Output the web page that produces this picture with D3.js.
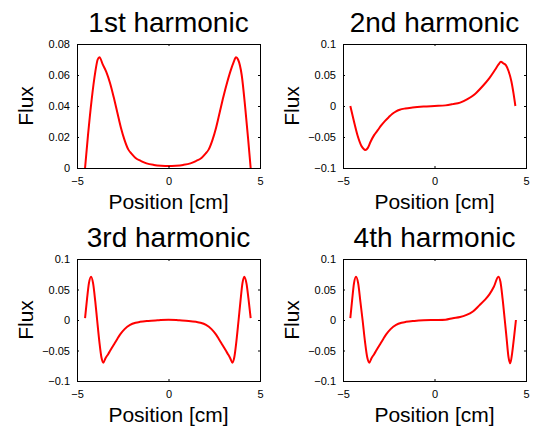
<!DOCTYPE html>
<html>
<head>
<meta charset="utf-8">
<script src="https://cdn.jsdelivr.net/npm/d3@7"></script>
<style>
  body { margin: 0; background: #fff; }
  text { font-family: "Liberation Sans", Arial, sans-serif; fill: #000; }
</style>
</head>
<body>
<div class="mainDiv"></div>
<script>
const titles = ["1st harmonic", "2nd harmonic", "3rd harmonic", "4th harmonic"];
const xTicks = [-5, 0, 5];
const yTicksFirst = [0, 0.02, 0.04, 0.06, 0.08];
const yTicksOther = [-0.1, -0.05, 0, 0.05, 0.1];

// 1st harmonic
const pos1 = [-4.56,-4.4,-4.2,-4.0,-3.87,-3.77,-3.6,-3.4,-3.2,-3.0,-2.8,-2.6,-2.4,-2.2,-2.0,-1.8,-1.5,-1.2,-0.8,-0.4,0,
  0.4,0.8,1.2,1.5,1.8,2.0,2.2,2.4,2.6,2.8,3.0,3.2,3.4,3.55,3.69,3.8,4.0,4.2,4.35,4.49];
const flux1 = [0,0.021,0.044,0.062,0.070,0.0715,0.067,0.062,0.055,0.046,0.036,0.026,0.018,0.012,0.009,0.0065,0.0045,0.003,0.002,0.0015,0.0013,
  0.0015,0.002,0.003,0.0045,0.0065,0.009,0.012,0.018,0.026,0.036,0.046,0.055,0.063,0.068,0.0715,0.070,0.060,0.038,0.019,0];

// 2nd harmonic
const pos2 = [-4.6,-4.4,-4.2,-4.0,-3.88,-3.78,-3.65,-3.5,-3.3,-3.1,-2.9,-2.7,-2.5,-2.3,-2.1,-1.9,-1.6,-1.2,-0.6,0,
  0.6,1.0,1.4,1.8,2.2,2.6,3.0,3.3,3.5,3.63,3.75,3.9,4.05,4.2,4.32,4.42];
const flux2 = [0,-0.025,-0.048,-0.064,-0.069,-0.071,-0.068,-0.058,-0.047,-0.039,-0.031,-0.024,-0.018,-0.0125,-0.0085,-0.006,-0.004,-0.0025,-0.001,0,
  0.001,0.003,0.0055,0.011,0.019,0.031,0.045,0.058,0.067,0.0715,0.069,0.066,0.056,0.040,0.020,0];

// 3rd harmonic
const pos3 = [-4.56,-4.45,-4.35,-4.23,-4.12,-4.0,-3.9,-3.78,-3.66,-3.56,-3.45,-3.3,-3.2,-3.0,-2.8,-2.65,-2.4,-2.1,-1.8,-1.56,-1.1,-0.6,0,
  0.6,1.1,1.5,1.75,2.05,2.35,2.6,2.75,2.95,3.15,3.25,3.38,3.49,3.59,3.71,3.83,3.93,4.04,4.14,4.26,4.37,4.49];
const flux3 = [0.003,0.035,0.060,0.071,0.060,0.030,0,-0.035,-0.062,-0.070,-0.063,-0.056,-0.051,-0.041,-0.031,-0.024,-0.015,-0.008,-0.0045,-0.003,-0.0015,-0.0005,0.0005,
  -0.0005,-0.0015,-0.003,-0.0045,-0.008,-0.015,-0.024,-0.031,-0.041,-0.051,-0.056,-0.063,-0.070,-0.062,-0.035,0,0.030,0.060,0.071,0.060,0.035,0.003];

// 4th harmonic
const pos4 = [-4.6,-4.5,-4.4,-4.29,-4.17,-4.05,-3.93,-3.8,-3.67,-3.56,-3.45,-3.3,-3.2,-3.0,-2.8,-2.65,-2.4,-2.1,-1.8,-1.56,-1.1,-0.6,0,
  0.6,1.0,1.4,1.72,2.1,2.45,2.75,3.0,3.25,3.49,3.6,3.72,3.84,3.94,4.04,4.14,4.24,4.34,4.45];
const flux4 = [0.003,0.033,0.060,0.071,0.060,0.030,0,-0.035,-0.062,-0.070,-0.063,-0.056,-0.051,-0.041,-0.031,-0.024,-0.015,-0.008,-0.0045,-0.003,-0.0015,-0.0005,0,
  0.0005,0.003,0.005,0.008,0.014,0.024,0.033,0.042,0.055,0.071,0.063,0.035,0,-0.030,-0.060,-0.071,-0.055,-0.030,0];

const positions = [pos1, pos2, pos3, pos4];
const fluxes = [flux1, flux2, flux3, flux4];

const svg = d3.select('.mainDiv').append('svg')
  .attr('width', 536).attr('height', 430);

// axes boxes, by column / row
const colLeft = [77, 343];
const colRight = [260, 526];
const rowTop = [44, 259];
const rowBottom = [168, 381];

for (let i = 0; i < 4; i++) {
  const c = i % 2;
  const r = Math.floor(i / 2);
  const x0 = colLeft[c], x1 = colRight[c];
  const y0 = rowTop[r], y1 = rowBottom[r];

  const xScale = d3.scaleLinear().domain([-5, 5]).range([x0, x1]);
  const yTicks = i == 0 ? yTicksFirst : yTicksOther;
  const yScale = d3.scaleLinear().domain(d3.extent(yTicks)).range([y1, y0]);

  const g = svg.append('g');

  g.append('clipPath').attr('id', 'clip' + i)
    .append('rect')
    .attr('x', x0).attr('y', y0)
    .attr('width', x1 - x0).attr('height', y1 - y0);

  // the curve
  const pts = positions[i].map((p, k) => [p, fluxes[i][k]]);
  g.append('path')
    .datum(pts)
    .attr('clip-path', 'url(#clip' + i + ')')
    .attr('fill', 'none')
    .attr('stroke', '#ff0000')
    .attr('stroke-width', 2)
    .attr('stroke-linejoin', 'round')
    .attr('d', d3.line()
      .x(d => xScale(d[0]))
      .y(d => yScale(d[1]))
      .curve(d3.curveMonotoneX));

  // axes, ticks pointing inward
  const fmt = d3.format('');
  g.append('g').attr('transform', `translate(0,${y1})`)
    .call(d3.axisBottom(xScale).tickValues(xTicks).tickSizeInner(-2).tickSizeOuter(0).tickPadding(9).tickFormat(fmt));
  g.append('g').attr('transform', `translate(0,${y0})`)
    .call(d3.axisTop(xScale).tickValues(xTicks).tickSizeInner(-2).tickSizeOuter(0).tickFormat(''));
  g.append('g').attr('transform', `translate(${x0},0)`)
    .call(d3.axisLeft(yScale).tickValues(yTicks).tickSizeInner(-2).tickSizeOuter(0).tickPadding(7).tickFormat(fmt));
  g.append('g').attr('transform', `translate(${x1},0)`)
    .call(d3.axisRight(yScale).tickValues(yTicks).tickSizeInner(-2).tickSizeOuter(0).tickFormat(''));

  g.selectAll('.domain').remove();
  g.selectAll('.tick line').attr('stroke', '#000');
  g.selectAll('.tick text')
    .attr('font-size', 11)
    .attr('font-family', '"Liberation Sans", Arial, sans-serif')
    .attr('fill', '#000');

  // box
  g.append('rect')
    .attr('x', x0).attr('y', y0)
    .attr('width', x1 - x0).attr('height', y1 - y0)
    .attr('fill', 'none')
    .attr('stroke', '#000')
    .attr('stroke-width', 1)
    .attr('shape-rendering', 'crispEdges');

  // title
  g.append('text')
    .attr('x', (x0 + x1) / 2)
    .attr('y', y0 - 12)
    .attr('text-anchor', 'middle')
    .attr('font-size', 28)
    .text(titles[i]);

  // x label
  g.append('text')
    .attr('x', (x0 + x1) / 2)
    .attr('y', y1 + 41)
    .attr('text-anchor', 'middle')
    .attr('font-size', 21)
    .text('Position [cm]');

  // y label
  g.append('text')
    .attr('transform', `translate(${x0 - 44},${(y0 + y1) / 2}) rotate(-90)`)
    .attr('text-anchor', 'middle')
    .attr('font-size', 21)
    .text('Flux');
}
</script>
</body>
</html>
